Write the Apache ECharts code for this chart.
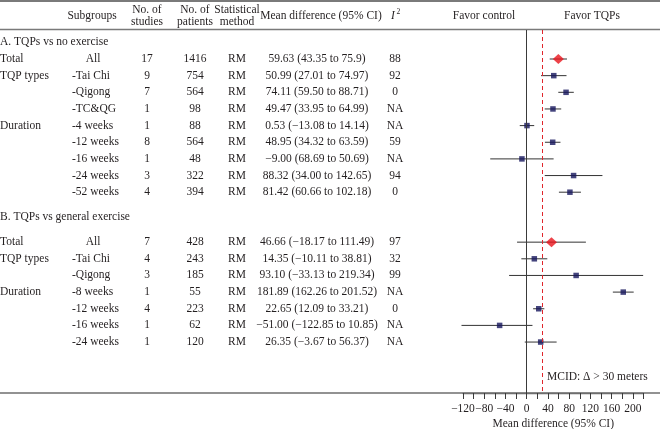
<!DOCTYPE html>
<html>
<head>
<meta charset="utf-8">
<script src="https://cdn.jsdelivr.net/npm/echarts@6/dist/echarts.min.js"></script>
<style>
html, body { margin: 0; padding: 0; background: #fff; }
#forest { width: 660px; height: 429px; }
</style>
</head>
<body>
<div id="forest"></div>
<script>
// table rows (row index on the plot's y axis)
var rows      = [0, 1, 2, 3, 4, 5, 6, 7, 8, 11, 12, 13, 14, 15, 16, 17];
var groups    = ['Total', 'TQP types', '', '', 'Duration', '', '', '', '',
                 'Total', 'TQP types', '', 'Duration', '', '', ''];
var subgroups = ['All', '-Tai Chi', '-Qigong', '-TC&QG', '-4 weeks', '-12 weeks', '-16 weeks', '-24 weeks', '-52 weeks',
                 'All', '-Tai Chi', '-Qigong', '-8 weeks', '-12 weeks', '-16 weeks', '-24 weeks'];
var studies   = [17, 9, 7, 1, 1, 8, 1, 3, 4, 7, 4, 3, 1, 4, 1, 1];
var patients  = [1416, 754, 564, 98, 88, 564, 48, 322, 394, 428, 243, 185, 55, 223, 62, 120];
var methods   = ['RM', 'RM', 'RM', 'RM', 'RM', 'RM', 'RM', 'RM', 'RM', 'RM', 'RM', 'RM', 'RM', 'RM', 'RM', 'RM'];
var md        = [59.63, 50.99, 74.11, 49.47, 0.53, 48.95, -9.00, 88.32, 81.42,
                 46.66, 14.35, 93.10, 181.89, 22.65, -51.00, 26.35];
var lo        = [43.35, 27.01, 59.50, 33.95, -13.08, 34.32, -68.69, 34.00, 60.66,
                 -18.17, -10.11, -33.13, 162.26, 12.09, -122.85, -3.67];
var hi        = [75.9, 74.97, 88.71, 64.99, 14.14, 63.59, 50.69, 142.65, 102.18,
                 111.49, 38.81, 219.34, 201.52, 33.21, 10.85, 56.37];
var mdText    = ['59.63 (43.35 to 75.9)', '50.99 (27.01 to 74.97)', '74.11 (59.50 to 88.71)',
                 '49.47 (33.95 to 64.99)', '0.53 (\u221213.08 to 14.14)', '48.95 (34.32 to 63.59)',
                 '\u22129.00 (68.69 to 50.69)', '88.32 (34.00 to 142.65)', '81.42 (60.66 to 102.18)',
                 '46.66 (\u221218.17 to 111.49)', '14.35 (\u221210.11 to 38.81)', '93.10 (\u221233.13 to 219.34)',
                 '181.89 (162.26 to 201.52)', '22.65 (12.09 to 33.21)', '\u221251.00 (\u2212122.85 to 10.85)',
                 '26.35 (\u22123.67 to 56.37)'];
var i2        = ['88', '92', '0', 'NA', 'NA', '59', 'NA', '94', '0', '97', '32', '99', 'NA', '0', 'NA', 'NA'];
var pooled    = [true, false, false, false, false, false, false, false, false,
                 true, false, false, false, false, false, false];
var sections  = [{ text: 'A. TQPs vs no exercise', row: -1 }, { text: 'B. TQPs vs general exercise', row: 9.5 }];
var mcid = 30;

var FONT = '"Liberation Serif", "DejaVu Serif", serif';
var INK = '#231f20';

var chart = echarts.init(document.getElementById('forest'));

var ciData = [], studyData = [], pooledData = [];
for (var i = 0; i < rows.length; i++) {
    ciData.push([lo[i], hi[i], rows[i]]);
    if (pooled[i]) pooledData.push([md[i], rows[i]]);
    else studyData.push([md[i], rows[i]]);
}

var option = {
    animation: false,
    grid: { left: 463, right: 16.5, top: 30, bottom: 36, outerBoundsMode: 'none', containLabel: false },
    xAxis: {
        type: 'value',
        position: 'bottom',
        min: -120,
        max: 220,
        interval: 20,
        splitLine: { show: false },
        axisLine: { show: true, onZero: false, lineStyle: { color: '#6e6e6e', width: 1.3 } },
        axisTick: { show: true, length: 6, lineStyle: { color: '#3a3a3a' } },
        axisLabel: {
            margin: 10,
            color: INK,
            fontFamily: FONT,
            fontSize: 11.5,
            formatter: function (v) {
                if (v % 40 !== 0 || v > 200) return '';
                return v < 0 ? '\u2212' + Math.abs(v) : String(v);
            }
        },
        name: 'Mean difference (95% CI)',
        nameLocation: 'middle',
        nameGap: 25,
        nameMoveOverlap: false,
        nameTextStyle: { color: INK, fontFamily: FONT, fontSize: 11.5 }
    },
    yAxis: {
        type: 'value',
        inverse: true,
        min: -1.742,
        max: 20.06,
        show: false
    },
    series: [
        {
            name: 'ci',
            type: 'custom',
            data: ciData,
            encode: { x: [0, 1], y: 2 },
            renderItem: function (params, api) {
                var p1 = api.coord([api.value(0), api.value(2)]);
                var p2 = api.coord([api.value(1), api.value(2)]);
                return {
                    type: 'line',
                    shape: { x1: p1[0], y1: p1[1], x2: p2[0], y2: p2[1] },
                    style: { stroke: '#333', lineWidth: 1 }
                };
            },
            markLine: {
                silent: true,
                symbol: ['none', 'none'],
                label: { show: false },
                data: [
                    { xAxis: 0, lineStyle: { color: '#3a3a3a', width: 1, type: 'solid' } },
                    { xAxis: mcid, lineStyle: { color: '#e0262c', width: 1, type: [4, 3] } }
                ]
            }
        },
        {
            name: 'study',
            type: 'scatter',
            symbol: 'rect',
            symbolSize: 5.5,
            itemStyle: { color: '#15155c' },
            data: studyData,
            z: 3
        },
        {
            name: 'pooled',
            type: 'scatter',
            symbol: 'diamond',
            symbolSize: [11, 10],
            itemStyle: { color: '#e8141c' },
            data: pooledData,
            z: 3
        }
    ]
};
chart.setOption(option);

// table text, placed on the same rows as the plot
function txt(s, x, y, align, extra) {
    var st = { text: s, x: x, y: y, fill: INK, fontFamily: FONT, fontSize: 11.5,
               align: align || 'center', verticalAlign: 'middle' };
    if (extra) for (var k in extra) st[k] = extra[k];
    return { type: 'text', silent: true, style: st };
}
function rowY(r) { return chart.convertToPixel({ yAxisIndex: 0 }, r); }

var g = [];
// rules
g.push({ type: 'line', silent: true, shape: { x1: 0, y1: 1, x2: 660, y2: 1 }, style: { stroke: '#7a7a7a', lineWidth: 2 } });
g.push({ type: 'line', silent: true, shape: { x1: 0, y1: 29.5, x2: 660, y2: 29.5 }, style: { stroke: '#7a7a7a', lineWidth: 1.3 } });
g.push({ type: 'line', silent: true, shape: { x1: 0, y1: 393, x2: 660, y2: 393 }, style: { stroke: '#6e6e6e', lineWidth: 1.3 } });

// header
g.push(txt('Subgroups', 92, 16));
g.push(txt('No. of', 147, 10));
g.push(txt('studies', 147, 22));
g.push(txt('No. of', 195, 10));
g.push(txt('patients', 195, 22));
g.push(txt('Statistical', 237, 10));
g.push(txt('method', 237, 22));
g.push(txt('Mean difference (95% CI)', 321, 16));
g.push(txt('I', 393, 16, 'center', { fontStyle: 'italic' }));
g.push(txt('2', 396.5, 12, 'left', { fontSize: 7.5 }));
g.push(txt('Favor control', 484, 16));
g.push(txt('Favor TQPs', 592, 16));

sections.forEach(function (s) { g.push(txt(s.text, 0, rowY(s.row), 'left')); });

for (var j = 0; j < rows.length; j++) {
    var y = rowY(rows[j]);
    if (groups[j]) g.push(txt(groups[j], 0, y, 'left'));
    if (subgroups[j] === 'All') g.push(txt(subgroups[j], 93, y));
    else g.push(txt(subgroups[j], 72, y, 'left'));
    g.push(txt(String(studies[j]), 147, y));
    g.push(txt(String(patients[j]), 195, y));
    g.push(txt(methods[j], 237, y));
    g.push(txt(mdText[j], 317, y));
    g.push(txt(i2[j], 395, y));
}

g.push(txt('MCID: \u0394 > 30 meters', 547, rowY(19.1), 'left'));

chart.setOption({ graphic: g });
</script>
</body>
</html>
